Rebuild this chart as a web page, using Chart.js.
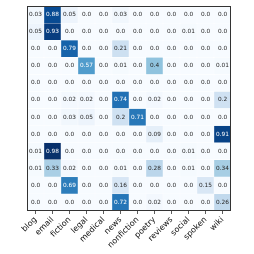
<!DOCTYPE html>
<html lang="en">
<head>
    <meta charset="UTF-8">
    <title>Confusion matrix</title>
    <script src="https://cdn.jsdelivr.net/npm/chart.js"></script>
    <style>
        html, body { margin: 0; padding: 0; background: #fff; }
        #wrap { width: 254px; height: 254px; }
    </style>
</head>
<body>
    <div id="wrap"><canvas id="heat" width="254" height="254"></canvas></div>

    <script>
        // genre labels (columns = predicted, rows = true)
        var genres = ['blog', 'email', 'fiction', 'legal', 'medical', 'news',
                      'nonfiction', 'poetry', 'reviews', 'social', 'spoken', 'wiki'];

        var rows = [
            [0.03, 0.88, 0.05, 0.0, 0.0, 0.03, 0.0, 0.0, 0.0, 0.0, 0.0, 0.0],
            [0.05, 0.93, 0.0, 0.0, 0.0, 0.0, 0.0, 0.0, 0.0, 0.01, 0.0, 0.0],
            [0.0, 0.0, 0.79, 0.0, 0.0, 0.21, 0.0, 0.0, 0.0, 0.0, 0.0, 0.0],
            [0.0, 0.0, 0.0, 0.57, 0.0, 0.01, 0.0, 0.4, 0.0, 0.0, 0.0, 0.01],
            [0.0, 0.0, 0.0, 0.0, 0.0, 0.0, 0.0, 0.0, 0.0, 0.0, 0.0, 0.0],
            [0.0, 0.0, 0.02, 0.02, 0.0, 0.74, 0.0, 0.02, 0.0, 0.0, 0.0, 0.2],
            [0.0, 0.0, 0.03, 0.05, 0.0, 0.2, 0.71, 0.0, 0.0, 0.0, 0.0, 0.0],
            [0.0, 0.0, 0.0, 0.0, 0.0, 0.0, 0.0, 0.09, 0.0, 0.0, 0.0, 0.91],
            [0.01, 0.98, 0.0, 0.0, 0.0, 0.0, 0.0, 0.0, 0.0, 0.01, 0.0, 0.0],
            [0.01, 0.33, 0.02, 0.0, 0.0, 0.01, 0.0, 0.28, 0.0, 0.01, 0.0, 0.34],
            [0.0, 0.0, 0.69, 0.0, 0.0, 0.16, 0.0, 0.0, 0.0, 0.0, 0.15, 0.0],
            [0.0, 0.0, 0.0, 0.0, 0.0, 0.72, 0.0, 0.02, 0.0, 0.0, 0.0, 0.26]
        ];

        var vmax = 0.98;

        // matplotlib "Blues"
        var blues = ['#f7fbff', '#deebf7', '#c6dbef', '#9ecae1', '#6baed6',
                     '#4292c6', '#2171b5', '#08519c', '#08306b'];

        function hexRgb(h) {
            return [parseInt(h.substr(1, 2), 16), parseInt(h.substr(3, 2), 16), parseInt(h.substr(5, 2), 16)];
        }

        function blueRgb(v) {
            var t = Math.max(0, Math.min(1, v / vmax)) * (blues.length - 1);
            var i = Math.min(Math.floor(t), blues.length - 2);
            var f = t - i;
            var a = hexRgb(blues[i]), b = hexRgb(blues[i + 1]);
            return [0, 1, 2].map(function(k) { return Math.round(a[k] + (b[k] - a[k]) * f); });
        }

        function textColor(v) {
            var c = blueRgb(v).map(function(x) {
                x = x / 255;
                return x <= 0.03928 ? x / 12.92 : Math.pow((x + 0.055) / 1.055, 2.4);
            });
            var lum = 0.2126 * c[0] + 0.7152 * c[1] + 0.0722 * c[2];
            return lum > 0.408 ? '#262626' : '#ffffff';
        }

        function fmt(v) {
            return v === Math.round(v) ? v.toFixed(1) : String(v);
        }

        var datasets = rows.map(function(r, i) {
            return {
                data: r.map(function() { return [i, i + 1]; }),
                backgroundColor: r.map(function(v) { return 'rgb(' + blueRgb(v).join(',') + ')'; }),
                borderColor: 'rgba(255,255,255,0.5)',
                borderWidth: 0.5,
                borderSkipped: false,
                barPercentage: 1,
                categoryPercentage: 1,
                grouped: false
            };
        });

        var annotate = {
            id: 'annotate',
            afterDatasetsDraw: function(chart) {
                var ctx = chart.ctx;
                ctx.save();
                ctx.font = '5.8px "DejaVu Sans"';
                ctx.textAlign = 'center';
                ctx.textBaseline = 'middle';
                chart.data.datasets.forEach(function(ds, i) {
                    chart.getDatasetMeta(i).data.forEach(function(el, j) {
                        var v = rows[i][j];
                        ctx.fillStyle = textColor(v);
                        ctx.fillText(fmt(v), el.x, (el.y + el.base) / 2);
                    });
                });
                var a = chart.chartArea;
                ctx.strokeStyle = '#333';
                ctx.lineWidth = 1;
                ctx.strokeRect(a.left + 0.5, a.top + 0.5, a.right - a.left - 1, a.bottom - a.top - 1);
                ctx.restore();
            }
        };

        new Chart(document.getElementById('heat').getContext('2d'), {
            type: 'bar',
            data: { labels: genres, datasets: datasets },
            options: {
                responsive: false,
                animation: false,
                layout: { padding: { left: 0, right: 23, top: 6, bottom: 0 } },
                plugins: { legend: { display: false }, tooltip: { enabled: false } },
                scales: {
                    x: {
                        type: 'category',
                        offset: true,
                        grid: { display: true, drawOnChartArea: false, offset: false, tickLength: 3, color: '#333', tickWidth: 0.8 },
                        border: { display: false },
                        ticks: {
                            minRotation: 45, maxRotation: 45, autoSkip: false,
                            color: '#111', padding: 1,
                            font: { family: 'DejaVu Sans', size: 8 }
                        },
                        afterFit: function(s) { s.height = 43; }
                    },
                    y: {
                        type: 'linear',
                        min: 0, max: 12, reverse: true,
                        grid: { display: false },
                        border: { display: false },
                        ticks: { display: false },
                        afterFit: function(s) { s.width = 27; }
                    }
                }
            },
            plugins: [annotate]
        });
    </script>
</body>
</html>
